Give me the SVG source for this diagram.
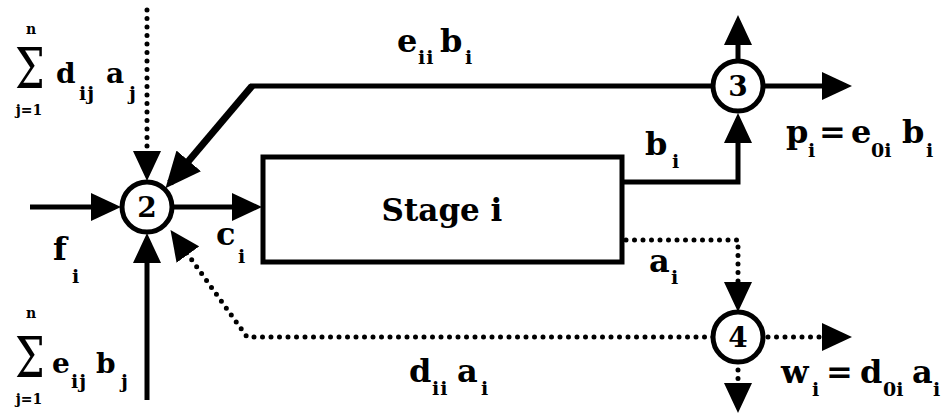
<svg xmlns="http://www.w3.org/2000/svg" width="948" height="413" viewBox="0 0 948 413">
<defs>
<marker id="ah" markerUnits="userSpaceOnUse" markerWidth="30" markerHeight="28" refX="24" refY="14" orient="auto"><path d="M0,0 L30,14 L0,28 z" fill="#000"/></marker>
<marker id="ahL" markerUnits="userSpaceOnUse" markerWidth="36" markerHeight="32" refX="29" refY="16" orient="auto"><path d="M0,0 L36,16 L0,32 z" fill="#000"/></marker>
<style>
.solid{fill:none;stroke:#000;stroke-width:5}
.thick{fill:none;stroke:#000;stroke-width:7}
.dot{fill:none;stroke:#000;stroke-width:5;stroke-linecap:round;stroke-dasharray:0 8.5}
.node{fill:#fff;stroke:#000;stroke-width:5}
.t{font-weight:700;fill:#000}
.m{font-size:32px}
.s{font-size:19px}
.sm{font-size:28px}
.num{font-size:28px;text-anchor:middle}
.lim{font-size:14px;text-anchor:middle}
.sig{font-size:42px;font-weight:400}
</style>
</defs>
<rect width="948" height="413" fill="#fff"/>
<g id="connectors">
<path class="dot" d="M147,10 L147,175" marker-end="url(#ah)"/>
<path class="solid" d="M713,86 L250,86"/>
<path class="thick" d="M252,86 L170,183" marker-end="url(#ahL)"/>
<path class="solid" d="M30,207 L115,207" marker-end="url(#ah)"/>
<path class="solid" d="M172,207 L256,207" marker-end="url(#ah)"/>
<path class="solid" d="M147,400 L147,239" marker-end="url(#ah)"/>
<path class="dot" d="M713,337 L247,337 L174,235" marker-end="url(#ah)"/>
<path class="solid" d="M622,182 L738,182 L738,119" marker-end="url(#ah)"/>
<path class="solid" d="M738,61 L738,21" marker-end="url(#ah)"/>
<path class="solid" d="M763,86 L846,86" marker-end="url(#ah)"/>
<path class="dot" d="M626,240 L738,240 L738,306" marker-end="url(#ah)"/>
<path class="dot" d="M768,337 L846,337" marker-end="url(#ah)"/>
<path class="dot" d="M738,370 L738,407" marker-end="url(#ah)"/>
</g>
<g font-family="DejaVu Serif, serif">
<g id="node2"><circle class="node" cx="147" cy="207" r="25"/><text class="t num" x="147" y="217">2</text></g>
<g id="node3"><circle class="node" cx="738" cy="86" r="25"/><text class="t num" x="738" y="96">3</text></g>
<g id="node4"><circle class="node" cx="738" cy="337" r="25"/><text class="t num" x="738" y="347">4</text></g>
<g id="stage"><rect class="node" x="263" y="157" width="359" height="105"/><text class="t" x="442" y="221" font-size="31" text-anchor="middle">Stage i</text></g>
<g id="labels">
<text class="t"><tspan class="m" x="397" y="52">e</tspan><tspan class="s" x="418" y="64" letter-spacing="1">ii</tspan><tspan class="m" x="440" y="52">b</tspan><tspan class="s" x="465" y="64">i</tspan></text>
<text class="t"><tspan class="m" x="409" y="382">d</tspan><tspan class="s" x="432" y="395" letter-spacing="1">ii</tspan><tspan class="m" x="457" y="382">a</tspan><tspan class="s" x="481" y="395">i</tspan></text>
<text class="t"><tspan class="m" x="786" y="143">p</tspan><tspan class="s" x="808" y="157">i</tspan><tspan class="m" x="819" y="143">=</tspan><tspan class="m" x="851" y="143">e</tspan><tspan class="s" x="871" y="157">0i</tspan><tspan class="m" x="902" y="143">b</tspan><tspan class="s" x="926" y="157">i</tspan></text>
<text class="t"><tspan class="m" x="781" y="383">w</tspan><tspan class="s" x="812" y="396">i</tspan><tspan class="m" x="826" y="383">=</tspan><tspan class="m" x="860" y="383">d</tspan><tspan class="s" x="883" y="396">0i</tspan><tspan class="m" x="912" y="383">a</tspan><tspan class="s" x="933" y="396">i</tspan></text>
<text class="t"><tspan class="m" x="53" y="260">f</tspan><tspan class="s" x="72" y="283">i</tspan></text>
<text class="t"><tspan class="m" x="216" y="245">c</tspan><tspan class="s" x="238" y="263">i</tspan></text>
<text class="t"><tspan class="m" x="645" y="155">b</tspan><tspan class="s" x="672" y="168">i</tspan></text>
<text class="t"><tspan class="m" x="649" y="272">a</tspan><tspan class="s" x="671" y="284">i</tspan></text>
<text class="t sig" transform="translate(15,88) scale(1,1.35)" x="0" y="0">Σ</text>
<text class="t lim" x="31" y="34">n</text>
<text class="t lim" x="29" y="115">j=1</text>
<text class="t"><tspan class="sm" x="56" y="83">d</tspan><tspan class="s" x="79" y="100" letter-spacing="1">ij</tspan><tspan class="sm" x="106" y="83">a</tspan><tspan class="s" x="129" y="100">j</tspan></text>
<text class="t sig" transform="translate(15,377) scale(1,1.35)" x="0" y="0">Σ</text>
<text class="t lim" x="31" y="318">n</text>
<text class="t lim" x="29" y="404">j=1</text>
<text class="t"><tspan class="sm" x="52" y="373">e</tspan><tspan class="s" x="71" y="388" letter-spacing="1">ij</tspan><tspan class="sm" x="96" y="373">b</tspan><tspan class="s" x="121" y="388">j</tspan></text>
</g>
</g>
</svg>
